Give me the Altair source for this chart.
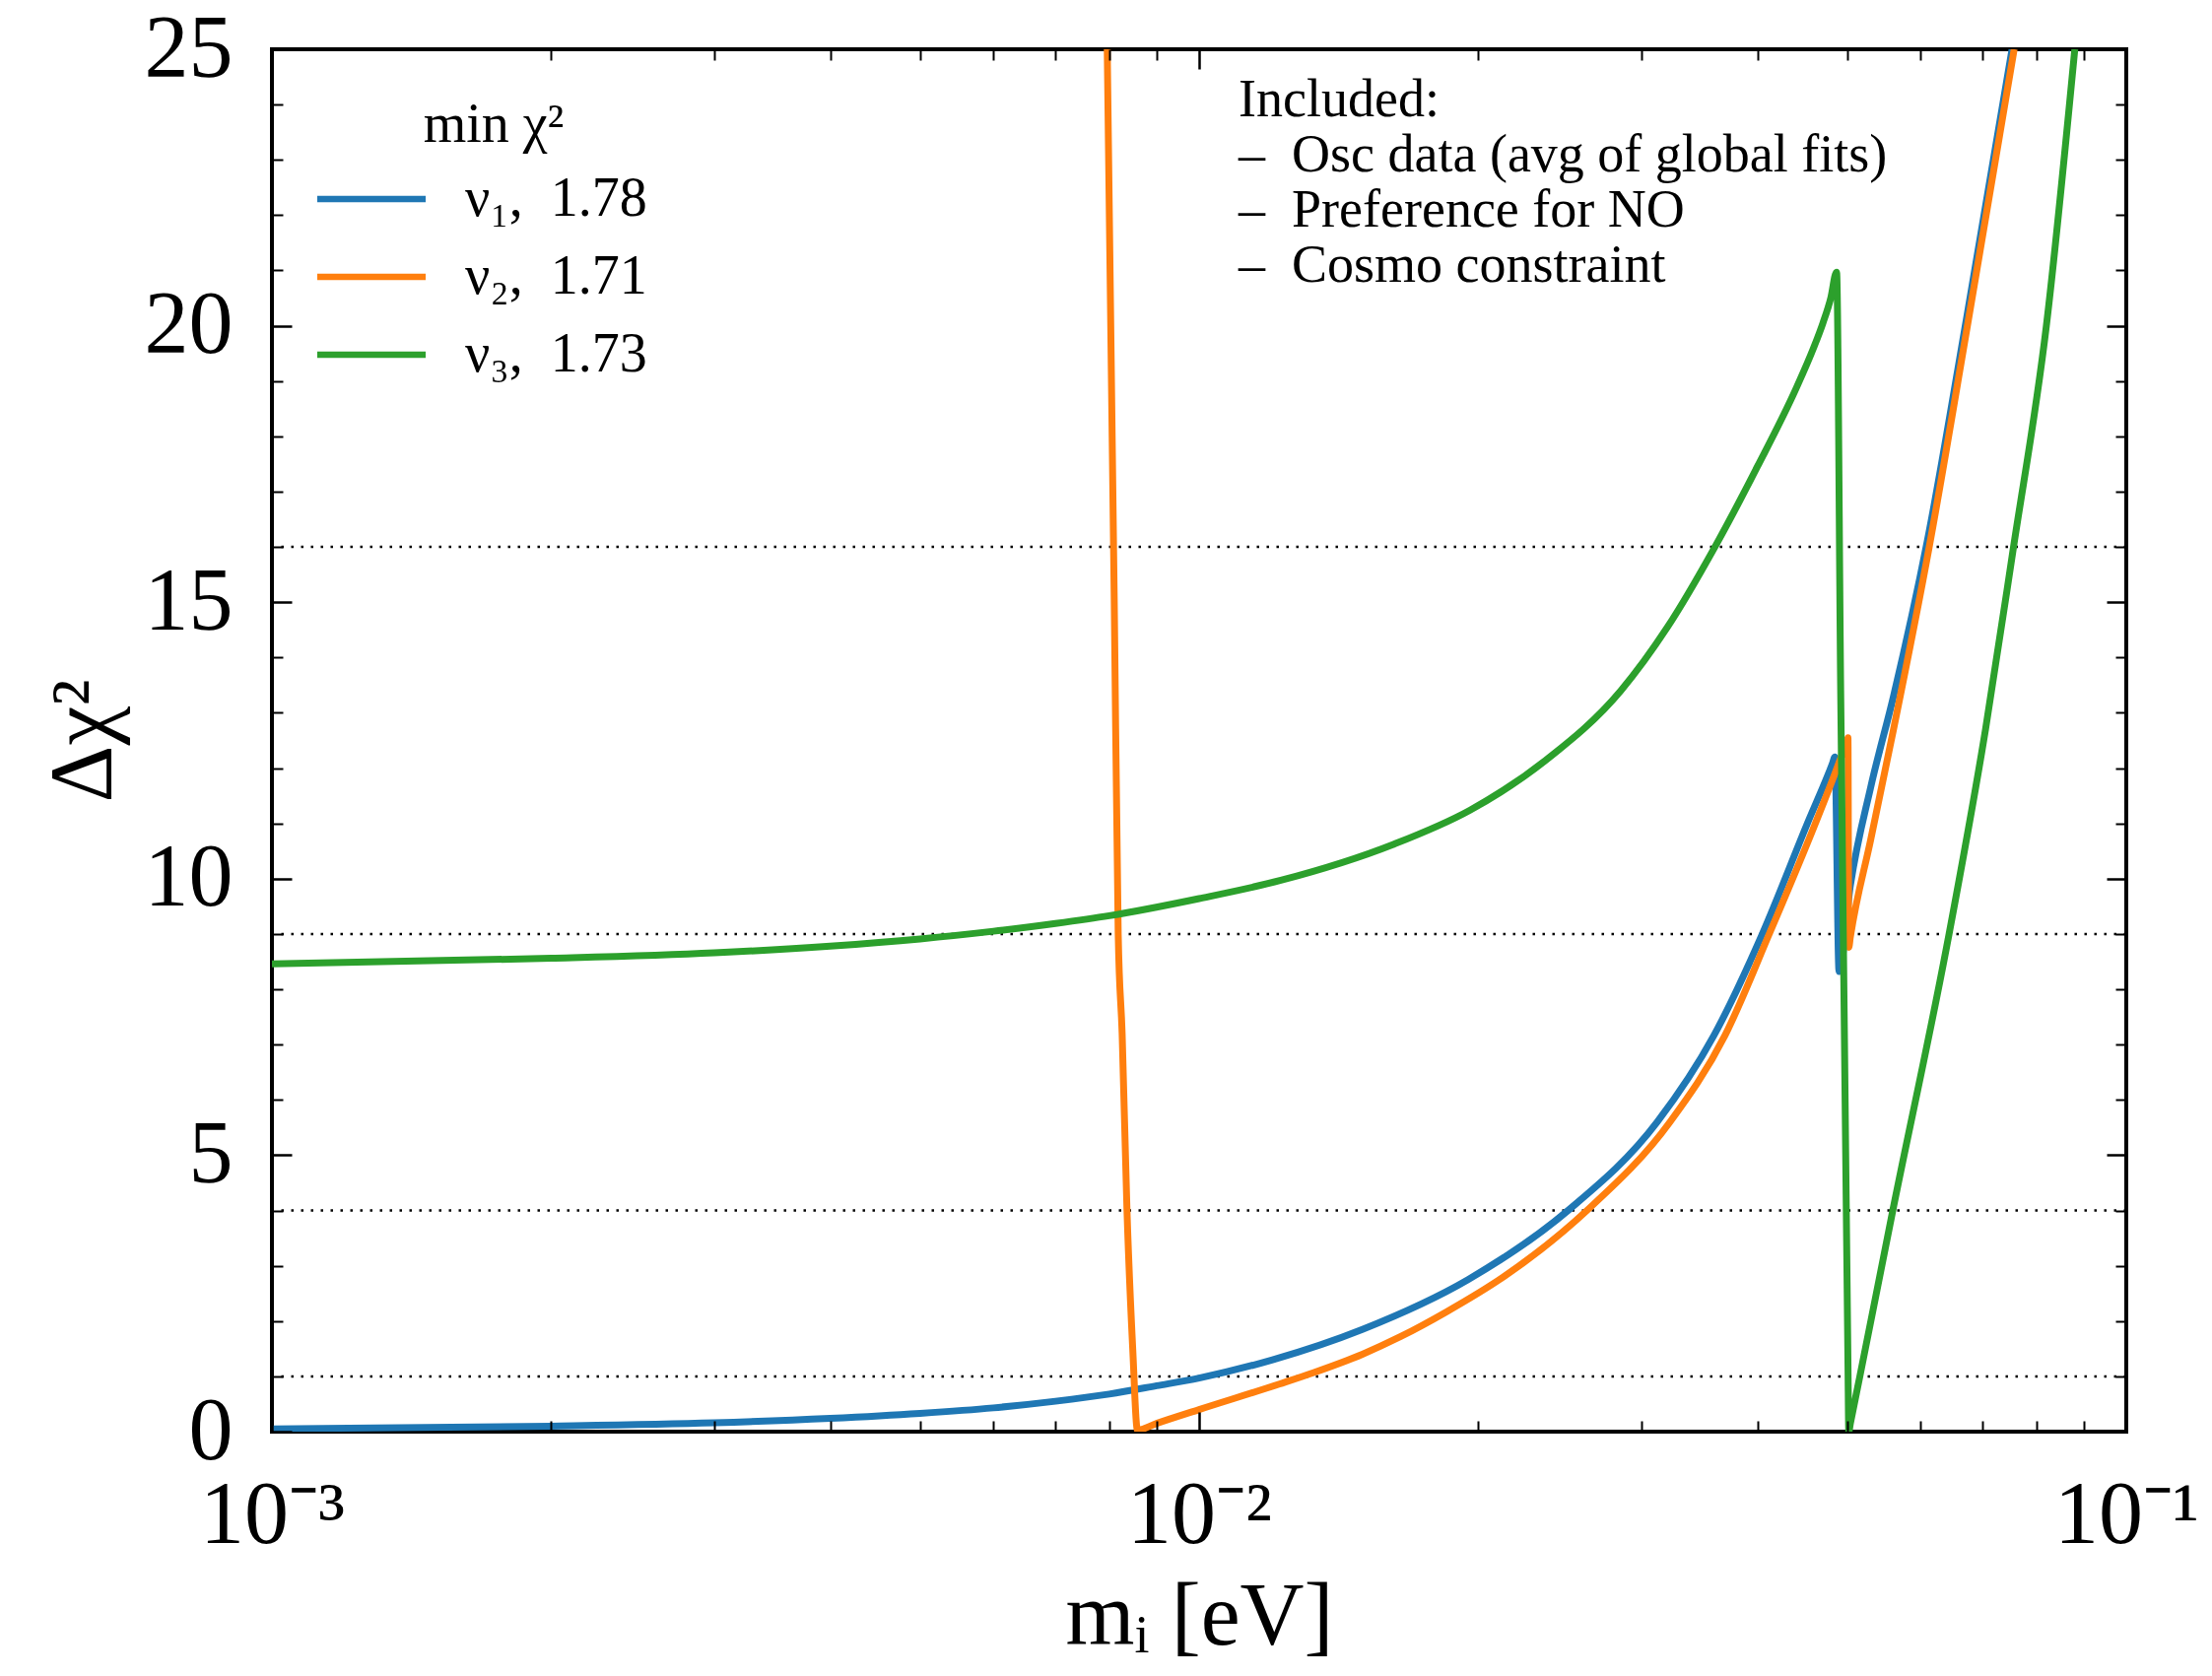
import altair as alt
import pandas as pd

# ---------------- data ----------------
SERIES = ["ν₁,\u20021.78", "ν₂,\u20021.71", "ν₃,\u20021.73"]
COLORS = ["#1f77b4", "#ff7f0e", "#2ca02c"]

nu1_m = [0.001, 0.002, 0.003, 0.004, 0.005, 0.006, 0.007, 0.008, 0.009, 0.010,
         0.012, 0.015, 0.0195, 0.025, 0.0312, 0.0359, 0.0405, 0.0453, 0.0482, 0.0485,
         0.0490, 0.0504, 0.0530, 0.0561, 0.0610, 0.0672, 0.0753]
nu1_chi2 = [0.05, 0.10, 0.16, 0.24, 0.33, 0.43, 0.55, 0.68, 0.83, 0.97,
            1.30, 1.85, 2.75, 4.0, 5.6, 7.16, 9.0, 11.0, 12.08, 12.2,
            8.32, 9.88, 11.65, 13.3, 16.1, 20.1, 25.0]

nu2_m = [0.00796, 0.0081, 0.00818, 0.00826, 0.00836, 0.00848, 0.00858, 0.009,
         0.010, 0.0122, 0.0133, 0.0150, 0.0165, 0.0185, 0.0213, 0.0262, 0.0322,
         0.0369, 0.0412, 0.0462, 0.0489, 0.0499, 0.0501, 0.0502, 0.0504, 0.0530,
         0.0561, 0.0613, 0.0674, 0.0757]
nu2_chi2 = [25.0, 15.0, 9.0, 7.2, 4.0, 1.5, 0.03, 0.15,
            0.40, 0.86, 1.07, 1.40, 1.72, 2.17, 2.80, 4.0, 5.6,
            7.16, 9.0, 11.0, 12.06, 12.46, 12.55, 8.76, 8.95, 10.7,
            12.7, 16.0, 20.0, 25.0]

nu3_m = [0.001, 0.002, 0.003, 0.004, 0.005, 0.006, 0.007, 0.008, 0.010, 0.01225,
         0.0162, 0.0196, 0.0236, 0.0285, 0.032, 0.036, 0.040, 0.044, 0.046,
         0.04708, 0.0480, 0.0487, 0.0492, 0.0501, 0.0502, 0.0504, 0.0516, 0.0560,
         0.0644, 0.0705, 0.0755, 0.0820, 0.0880]
nu3_chi2 = [8.46, 8.56, 8.66, 8.78, 8.91, 9.05, 9.19, 9.33, 9.64, 9.97,
            10.62, 11.24, 12.13, 13.40, 14.55, 16.0, 17.45, 18.85, 19.6,
            20.05, 20.5, 20.97, 13.4, 1.2, 0.0, 0.15, 1.0, 4.0,
            9.0, 12.7, 15.95, 20.0, 25.0]

HLINES = [1, 4, 9, 16]

X_MAJOR = [0.001, 0.01, 0.1]
X_MINOR = [0.002, 0.003, 0.004, 0.005, 0.006, 0.007, 0.008, 0.009,
           0.02, 0.03, 0.04, 0.05, 0.06, 0.07, 0.08, 0.09]
Y_MAJOR = [0, 5, 10, 15, 20, 25]
Y_MINOR = [1, 2, 3, 4, 6, 7, 8, 9, 11, 12, 13, 14, 16, 17, 18, 19, 21, 22, 23, 24]

NOTE_LINES = ["Included:",
              "–\u2002Osc data (avg of global fits)",
              "–\u2002Preference for NO",
              "–\u2002Cosmo constraint"]

X_TITLE = "mᵢ [eV]"
Y_TITLE = "Δχ²"
LEGEND_TITLE = "min χ²"

# ---------------- build table ----------------
rows = []
for name, ms, cs in zip(SERIES, [nu1_m, nu2_m, nu3_m], [nu1_chi2, nu2_chi2, nu3_chi2]):
    for m, c in zip(ms, cs):
        rows.append({"series": name, "m": m, "chi2": c})
df = pd.DataFrame(rows)

FONT = "Liberation Serif"
W, H = 1882, 1403
MAJ, MIN = 20, 11

xs = alt.Scale(type="log", domain=[0.001, 0.1], nice=False)
ys = alt.Scale(domain=[0, 25], nice=False)


def tick_axis(orient, values, size, width):
    return alt.Axis(orient=orient, values=values, tickSize=size, offset=-size,
                    domain=False, grid=False, labels=False, ticks=True,
                    tickColor="black", tickWidth=width, title=None, zindex=1)


ax_bottom = alt.Axis(
    orient="bottom", values=X_MAJOR, tickSize=MAJ, offset=-MAJ, domain=False,
    grid=False, ticks=True, tickColor="black", tickWidth=2.5, zindex=1,
    labelExpr="datum.value < 0.005 ? '10⁻³' : (datum.value < 0.05 ? '10⁻²' : '10⁻¹')",
    labelFont=FONT, labelFontSize=90, labelColor="black", labelBaseline="alphabetic",
    labelPadding=112, labelFlush=False, labelOverlap=False, labelBound=False,
    title=X_TITLE, titleFont=FONT, titleFontSize=90, titleFontWeight="normal",
    titleColor="black", titleBaseline="alphabetic", titleY=235,
)
ax_left = alt.Axis(
    orient="left", values=Y_MAJOR, tickSize=MAJ, offset=-MAJ, domain=False,
    grid=False, ticks=True, tickColor="black", tickWidth=2.5, zindex=1,
    labelFont=FONT, labelFontSize=90, labelColor="black", labelPadding=40,
    labelOverlap=False, labelBound=False, labelFlush=False,
    title=Y_TITLE, titleFont=FONT, titleFontSize=90, titleFontWeight="normal",
    titleColor="black", titleAngle=270, titleBaseline="alphabetic", titleAlign="center",
    titleX=-184, titleY=H / 2,
)

# wide flat custom symbol: length 2*sqrt(size) -> 110 px with size 3025
legend = alt.Legend(
    title=LEGEND_TITLE, orient="none", legendX=70, legendY=50, direction="vertical",
    symbolType="M-2,0H2", symbolSize=3025, symbolStrokeWidth=6.5, symbolOffset=0,
    labelFont=FONT, labelFontSize=56, labelColor="black", labelOffset=64, labelLimit=0,
    titleFont=FONT, titleFontSize=56, titleFontWeight="normal", titleColor="black",
    titleAnchor="middle", titlePadding=15, rowPadding=20, padding=0,
)

rules = alt.Chart(pd.DataFrame({"h": HLINES})).mark_rule(
    color="black", strokeWidth=2.5, strokeDash=[2.5, 7.5]
).encode(y=alt.Y("h:Q", scale=ys, axis=None))

lines = alt.Chart(df).mark_line(
    strokeWidth=7, clip=True, interpolate="monotone", strokeJoin="round"
).encode(
    x=alt.X("m:Q", scale=xs, axis=ax_bottom),
    y=alt.Y("chi2:Q", scale=ys, axis=ax_left),
    color=alt.Color("series:N", scale=alt.Scale(domain=SERIES, range=COLORS), legend=legend),
)


def hidden(xax, yax):
    return alt.Chart(df).mark_point(opacity=0, clip=True).encode(
        x=alt.X("m:Q", scale=xs, axis=xax),
        y=alt.Y("chi2:Q", scale=ys, axis=yax),
    )


h1 = hidden(tick_axis("bottom", X_MINOR, MIN, 2), tick_axis("left", Y_MINOR, MIN, 2))
h2 = hidden(tick_axis("top", X_MAJOR, MAJ, 2.5), tick_axis("right", Y_MAJOR, MAJ, 2.5))
h3 = hidden(tick_axis("top", X_MINOR, MIN, 2), tick_axis("right", Y_MINOR, MIN, 2))

note = alt.Chart(pd.DataFrame({"t": [0]})).mark_text(
    align="left", baseline="alphabetic", font=FONT, fontSize=54, lineHeight=56,
    color="black", lineBreak="\n"
).encode(x=alt.value(981), y=alt.value(68), text=alt.value("\n".join(NOTE_LINES)))

chart = alt.layer(rules, lines, h1, h2, h3, note).resolve_axis(
    x="independent", y="independent"
).properties(
    width=W, height=H,
    autosize=alt.AutoSizeParams(type="none"),
    padding={"left": 276, "top": 50, "right": 87, "bottom": 248},
    background="white",
).configure_view(stroke="black", strokeWidth=4)

chart.save("out.html", embed_options={"renderer": "svg", "actions": False})
